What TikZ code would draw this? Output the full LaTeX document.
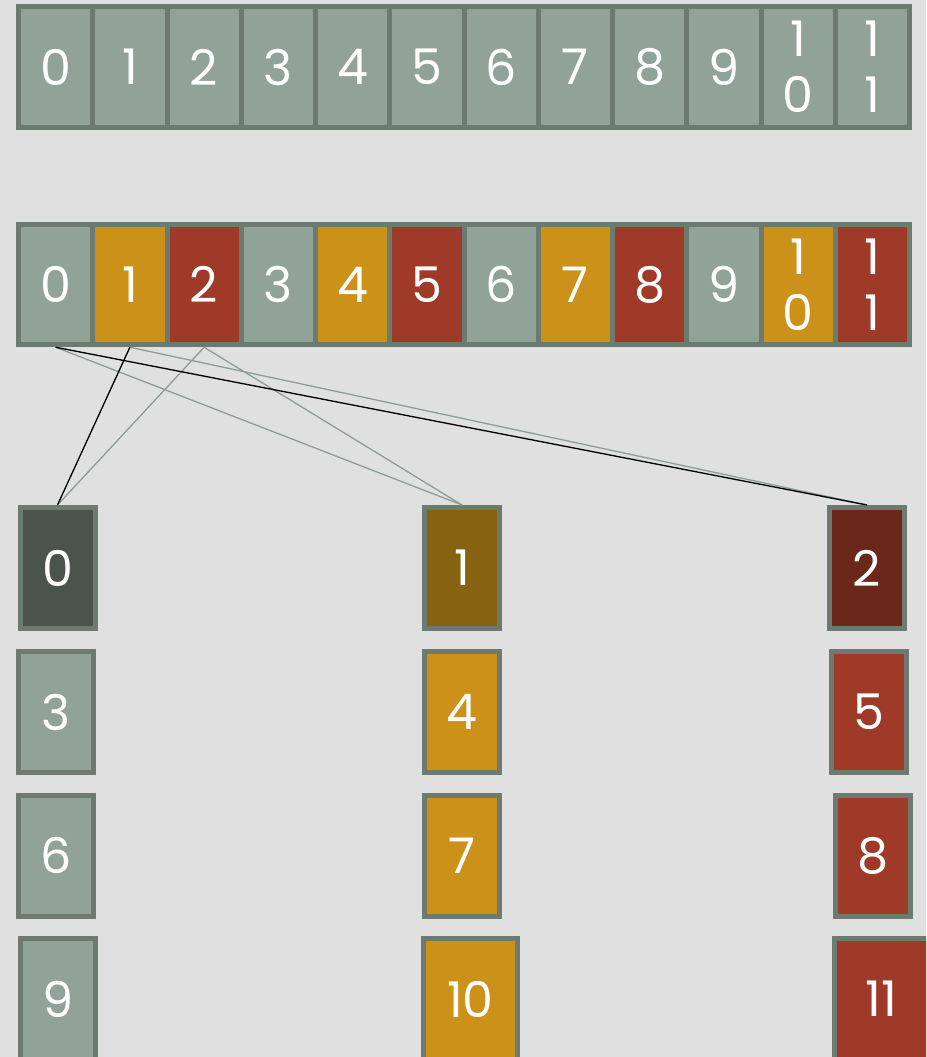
\documentclass[tikz,border=0pt]{standalone}
\usepackage{fontspec}
\setmainfont{Poppins}
\usepackage{tikz}
\definecolor{bggrey}{HTML}{E0E0E0}
\definecolor{edgegrey}{HTML}{6C7A70}
\definecolor{sage}{HTML}{91A398}
\definecolor{gold}{HTML}{CC9119}
\definecolor{rust}{HTML}{9E3A27}
\definecolor{darksage}{HTML}{4A544D}
\definecolor{darkgold}{HTML}{876311}
\definecolor{darkrust}{HTML}{6A271A}
\definecolor{linkgrey}{HTML}{8D9F95}

\begin{document}
\begin{tikzpicture}[font={\fontsize{28}{32}\selectfont},
		cell/.style={rectangle, draw=edgegrey, line width=1mm, inner sep=0pt, text=white, align=center,
			minimum width=1.485cm, minimum height=2.41cm},
		box/.style={cell, minimum width=1.5cm, minimum height=2.42cm},
		wide/.style={box, minimum width=1.88cm},
		link/.style={line width=0.75pt, linkgrey},
		blink/.style={line width=0.75pt, black}]
		\def\cw{1.485}\def\xo{0.37}
		\def\ya{-1.34}\def\yb{-5.69}
		\useasboundingbox (0,0) rectangle (18.52,-21.14);
		\clip (0,0) rectangle (18.52,-21.14);
		\fill[bggrey] (0,0) rectangle (18.52,-21.14);
		% ---------------- plain array ----------------
		\node[cell, fill=sage] (a0) at ({\xo+0.5*\cw},\ya) {0};
		\node[cell, fill=sage] (a1) at ({\xo+1.5*\cw},\ya) {1};
		\node[cell, fill=sage] (a2) at ({\xo+2.5*\cw},\ya) {2};
		\node[cell, fill=sage] (a3) at ({\xo+3.5*\cw},\ya) {3};
		\node[cell, fill=sage] (a4) at ({\xo+4.5*\cw},\ya) {4};
		\node[cell, fill=sage] (a5) at ({\xo+5.5*\cw},\ya) {5};
		\node[cell, fill=sage] (a6) at ({\xo+6.5*\cw},\ya) {6};
		\node[cell, fill=sage] (a7) at ({\xo+7.5*\cw},\ya) {7};
		\node[cell, fill=sage] (a8) at ({\xo+8.5*\cw},\ya) {8};
		\node[cell, fill=sage] (a9) at ({\xo+9.5*\cw},\ya) {9};
		\node[cell, fill=sage] (a10) at ({\xo+10.5*\cw},\ya) {1\\0};
		\node[cell, fill=sage] (a11) at ({\xo+11.5*\cw},\ya) {1\\1};
		% ---------------- coloured array ----------------
		\node[cell, fill=sage] (r0) at ({\xo+0.5*\cw},\yb) {0};
		\node[cell, fill=gold] (r1) at ({\xo+1.5*\cw},\yb) {1};
		\node[cell, fill=rust] (r2) at ({\xo+2.5*\cw},\yb) {2};
		\node[cell, fill=sage] (r3) at ({\xo+3.5*\cw},\yb) {3};
		\node[cell, fill=gold] (r4) at ({\xo+4.5*\cw},\yb) {4};
		\node[cell, fill=rust] (r5) at ({\xo+5.5*\cw},\yb) {5};
		\node[cell, fill=sage] (r6) at ({\xo+6.5*\cw},\yb) {6};
		\node[cell, fill=gold] (r7) at ({\xo+7.5*\cw},\yb) {7};
		\node[cell, fill=rust] (r8) at ({\xo+8.5*\cw},\yb) {8};
		\node[cell, fill=sage] (r9) at ({\xo+9.5*\cw},\yb) {9};
		\node[cell, fill=gold] (r10) at ({\xo+10.5*\cw},\yb) {1\\0};
		\node[cell, fill=rust] (r11) at ({\xo+11.5*\cw},\yb) {1\\1};
		% ---------------- columns ----------------
		\node[box, fill=darksage] (b0) at (1.15,-11.36) {0};
		\node[box, fill=sage] (b3) at (1.12,-14.24) {3};
		\node[box, fill=sage] (b6) at (1.12,-17.11) {6};
		\node[box, fill=sage] (b9) at (1.15,-19.98) {9};
		\node[box, fill=darkgold] (b1) at (9.24,-11.36) {1};
		\node[box, fill=gold] (b4) at (9.24,-14.24) {4};
		\node[box, fill=gold] (b7) at (9.24,-17.11) {7};
		\node[wide, fill=gold] (b10) at (9.41,-19.98) {10};
		\node[box, fill=darkrust] (b2) at (17.34,-11.36) {2};
		\node[box, fill=rust] (b5) at (17.37,-14.24) {5};
		\node[box, fill=rust] (b8) at (17.46,-17.11) {8};
		\node[wide, fill=rust] (b11) at (17.63,-19.98) {11};
		% links
		\draw[link] (r0.south) -- (b1.north);
		\draw[link] (r1.south) -- (b2.north);
		\draw[link] (r2.south) -- (b0.north);
		\draw[link] (r2.south) -- (b1.north);
		\draw[blink] (r0.south) -- (b2.north);
		\draw[blink] (r1.south) -- (b0.north);
	\end{tikzpicture}
\end{document}
